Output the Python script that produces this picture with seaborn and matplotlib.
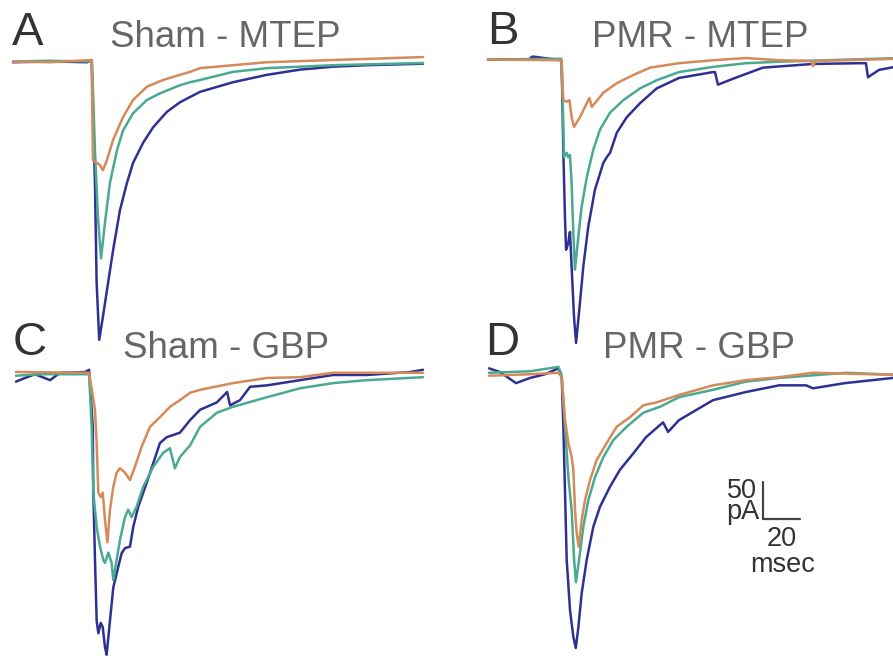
import pandas as pd
import matplotlib.pyplot as plt
import seaborn as sns

# ---- data: time (ms from trace start) and current (pA) ----
# Panel A: Sham - MTEP
a_blue_t = [0, 20, 40, 42.5, 44.3, 45.2, 46.6, 48.6, 51.4, 54.1, 57.8, 61.6, 64.9, 70.3, 75.7,
            83.2, 90.3, 95.7, 101.1, 118.9, 137.3, 155.1, 173, 191.4, 221.6]
a_blue_i = [-1, 0, -1, 2, -164, -299, -376, -345, -299, -255, -201, -164, -137, -110, -89,
            -68, -55, -48, -41, -28, -18, -11, -7, -5, -3]
a_teal_t = [0, 20, 42.7, 44.3, 45.9, 47.6, 49.7, 52.4, 56.2, 59.5, 64.9, 72.4, 79.5, 90.3,
            95.7, 101.1, 118.9, 137.3, 155.1, 173, 221.6]
a_teal_i = [0, 1, 0, -120, -210, -266, -218, -164, -120, -93, -70, -52, -43, -32,
            -28, -25, -14, -9, -7, -5, -2]
a_orange_t = [0, 20, 42.5, 43.2, 45.4, 47.0, 48.6, 50.8, 54.1, 59.5, 64.9, 72.4, 81.1, 90.3,
              95.7, 101.1, 118.9, 137.3, 173, 221.6]
a_orange_i = [0, -1, 2, -133, -137, -140, -147, -133, -106, -75, -52, -34, -25, -18,
              -14, -9, -5, -1, 2, 6]

# Panel B: PMR - MTEP
b_blue_t = [0, 22, 24, 39.8, 40.7, 41.6, 42.2, 43.4, 44.3, 45.2, 46.5, 47.6, 49.7, 51.5, 54.2,
            57.8, 62.3, 64.2, 66.0, 69.6, 75.0, 82.2, 91.2, 103.2, 121.6, 122.7, 124.3,
            133.5, 148.6, 175.7, 200.5, 204.3, 205.4, 211.4, 222]
b_blue_i = [0, 0, 4, -1, -122, -213, -257, -248, -233, -280, -348, -383, -329, -280, -226,
            -176, -140, -132, -126, -99, -78, -59, -39, -25, -17, -17, -34,
            -25, -11, -6, -5, -5, -24, -14, -9]
b_teal_t = [0, 39.5, 40.4, 41.1, 42.5, 43.4, 44.3, 45.2, 46.1, 47.0, 48.8, 50.6, 53.4, 56.9,
            60.5, 65.9, 73.1, 82.2, 91.2, 103.2, 121.6, 139.5, 157.3, 222]
b_teal_i = [0, 1, -55, -132, -126, -132, -129, -167, -234, -284, -240, -199, -159, -122,
            -95, -72, -55, -39, -28, -17, -10, -5, -3, 2]
b_orange_t = [0, 39.8, 40.7, 42.5, 44.0, 45.2, 46.5, 49.7, 53.4, 54.8, 56.1, 57.8, 62.3, 69.6,
              78.5, 87.6, 103.2, 121.6, 139.5, 157.3, 174.5, 175.7, 177, 222]
b_orange_i = [0, -1, -55, -57, -55, -78, -91, -78, -59, -52, -64, -59, -45, -32,
              -21, -11, -5, -1, 2, -1, -2, -9, -2, 1]

# Panel C: Sham - GBP
c_blue_t = [0, 4.9, 10.3, 18.4, 23.8, 37.3, 39.5, 41.5, 41.8, 42.7, 43.6, 44.5, 45.8, 46.9,
            48.1, 49.0, 50.8, 52.6, 55.3, 57.1, 58.9, 61.6, 63.4, 66.1, 70.6, 74.2, 77.8,
            81.5, 88.6, 94.1, 99.5, 108.6, 114.1, 115.7, 121.1, 126.5, 135.7, 153.5, 171.4,
            189.7, 213, 220]
c_blue_i = [-11, -6, -1, -9, 1, 2, 5, -72, -161, -252, -334, -351, -337, -343,
            -370, -380, -334, -289, -261, -243, -236, -234, -207, -180, -148, -121, -94,
            -86, -80, -63, -49, -39, -25, -43, -36, -18, -16, -9, -2,
            -2, 2, 5]
c_teal_t = [0, 13, 39.5, 40.9, 41.8, 43.6, 45.4, 47.2, 48.1, 49.9, 51.7, 52.6, 54.4, 56.2,
            58.9, 60.7, 62.5, 65.2, 68.8, 74.2, 79.6, 83.2, 85.9, 88.6, 94.1, 99.5, 108.6,
            117.3, 135.7, 153.5, 171.4, 189.7, 220]
c_teal_i = [-3, -1, -1, -72, -161, -207, -234, -252, -256, -242, -256, -279, -252, -225,
            -194, -184, -194, -180, -153, -126, -107, -101, -128, -113, -97, -72, -53,
            -45, -32, -20, -13, -9, -5]
c_orange_t = [0, 39.5, 42.7, 43.6, 44.5, 45.8, 46.9, 48.1, 49.4, 50.8, 52.6, 54.4, 56.2, 58.9,
              61.6, 64.3, 67.9, 72.4, 77.8, 83.2, 88.6, 94.1, 99.5, 117.3, 135.7, 153.5,
              171.4, 220]
c_orange_i = [2, 1, -49, -94, -161, -167, -161, -198, -228, -184, -153, -134, -128, -134,
              -144, -126, -99, -72, -59, -45, -36, -26, -22, -13, -6, -5,
              1, 1]

# Panel D: PMR - GBP
d_blue_t = [0, 5.9, 14.6, 22.2, 30.3, 37.5, 39.3, 40.2, 41.1, 42.0, 43.8, 45.6, 46.9, 48.3,
            50.1, 52.8, 56.4, 60.0, 65.4, 70.8, 78.0, 84.9, 94.1, 96.8, 102.7, 121.1, 138.9,
            156.8, 171.4, 175.1, 192.4, 222]
d_blue_i = [7, 2, -13, -6, -1, 7, -5, -72, -161, -252, -320, -356, -371, -343,
            -297, -252, -207, -180, -153, -130, -108, -86, -66, -79, -63, -36, -25,
            -16, -16, -20, -13, -5]
d_teal_t = [0, 22.2, 37.5, 39.3, 41.1, 42.9, 44.7, 46.0, 47.0, 49.2, 51.0, 53.7, 57.3, 61.8,
            67.2, 74.4, 83.4, 92.4, 102.7, 121.1, 138.9, 156.8, 193, 222]
d_teal_i = [1, 3, 9, -2, -72, -140, -185, -252, -282, -242, -207, -171, -140, -113,
            -90, -72, -53, -45, -32, -22, -11, -6, 1, -2]
d_orange_t = [0, 22.2, 37.5, 39.3, 41.1, 42.9, 44.7, 45.6, 46.5, 47.4, 48.5, 50.1, 51.9, 54.6,
              58.2, 63.6, 69.0, 76.2, 83.4, 90.6, 102.7, 121.1, 138.9, 156.8, 175.1, 222]
d_orange_i = [-3, -1, 1, -5, -63, -94, -113, -130, -184, -216, -234, -198, -171, -144,
              -117, -94, -72, -59, -43, -39, -29, -16, -9, -5, 1, -2]

panel_letters = ["A", "B", "C", "D"]
panel_titles = ["Sham - MTEP", "PMR - MTEP", "Sham - GBP", "PMR - GBP"]
trace_names = ["blue", "teal", "orange"]

traces = {
    "A": [(a_blue_t, a_blue_i), (a_teal_t, a_teal_i), (a_orange_t, a_orange_i)],
    "B": [(b_blue_t, b_blue_i), (b_teal_t, b_teal_i), (b_orange_t, b_orange_i)],
    "C": [(c_blue_t, c_blue_i), (c_teal_t, c_teal_i), (c_orange_t, c_orange_i)],
    "D": [(d_blue_t, d_blue_i), (d_teal_t, d_teal_i), (d_orange_t, d_orange_i)],
}

rows = []
for letter, series in traces.items():
    for name, (t, cur) in zip(trace_names, series):
        for tt, cc in zip(t, cur):
            rows.append({"panel": letter, "trace": name, "time": tt, "current": cc})
df = pd.DataFrame(rows)

# ---- style ----
sns.set_style("white")
plt.rcParams["font.family"] = ["Liberation Sans", "DejaVu Sans"]
palette = {"blue": "#2e3192", "teal": "#4aaa91", "orange": "#d58a5a"}

W, H = 893, 657
PX_MS = 1.85   # pixels per ms
PX_PA = 0.74   # pixels per pA
XLIM = (-2, 240)
YLIM = (-420, 60)

# where t=0 / I=0 sits for each panel (pixels from top-left)
origins = {"A": (13, 61.5), "B": (488, 59.5), "C": (16, 373.5), "D": (489, 373.5)}
letter_pos = {"A": (12, 45), "B": (487, 44), "C": (13, 355), "D": (485, 355)}
title_pos = {"A": (110, 47), "B": (592, 47), "C": (123, 358), "D": (603, 358)}

fig = plt.figure(figsize=(W / 100, H / 100), dpi=100)

axes = {}
for letter, title in zip(panel_letters, panel_titles):
    x0, y0 = origins[letter]
    left = x0 + XLIM[0] * PX_MS
    top = y0 - YLIM[1] * PX_PA
    width = (XLIM[1] - XLIM[0]) * PX_MS
    height = (YLIM[1] - YLIM[0]) * PX_PA
    ax = fig.add_axes([left / W, 1 - (top + height) / H, width / W, height / H])
    ax.patch.set_alpha(0)
    sub = df[df["panel"] == letter]
    sns.lineplot(data=sub, x="time", y="current", hue="trace", hue_order=trace_names,
                 palette=palette, sort=False, estimator=None, linewidth=1.8,
                 legend=False, ax=ax)
    for line in ax.lines:
        line.set_clip_on(False)
    ax.set_xlim(*XLIM)
    ax.set_ylim(*YLIM)
    ax.axis("off")
    axes[letter] = ax

    lx, ly = letter_pos[letter]
    fig.text(lx / W, 1 - ly / H, letter, fontsize=34, color="#333333", va="baseline")
    tx, ty = title_pos[letter]
    fig.text(tx / W, 1 - ty / H, title, fontsize=26.5, color="#666666", va="baseline")

# scale bar in panel D: 50 pA x 20 ms
ax = axes["D"]
bar_t, bar_i = 148, -196
ax.plot([bar_t, bar_t], [bar_i, bar_i + 50], color="#444444", lw=1.6, clip_on=False)
ax.plot([bar_t, bar_t + 20], [bar_i, bar_i], color="#444444", lw=1.6, clip_on=False)

# scale bar labels, placed in pixels
sb_style = dict(fontsize=19.5, color="#333333")
fig.text(757 / W, 1 - 491 / H, "50", ha="right", va="center", **sb_style)
fig.text(759 / W, 1 - 512 / H, "pA", ha="right", va="center", **sb_style)
fig.text(782 / W, 1 - 539 / H, "20", ha="center", va="center", **sb_style)
fig.text(782.5 / W, 1 - 565 / H, "msec", ha="center", va="center", **sb_style)

plt.savefig("out.png", dpi=100)
plt.close()
